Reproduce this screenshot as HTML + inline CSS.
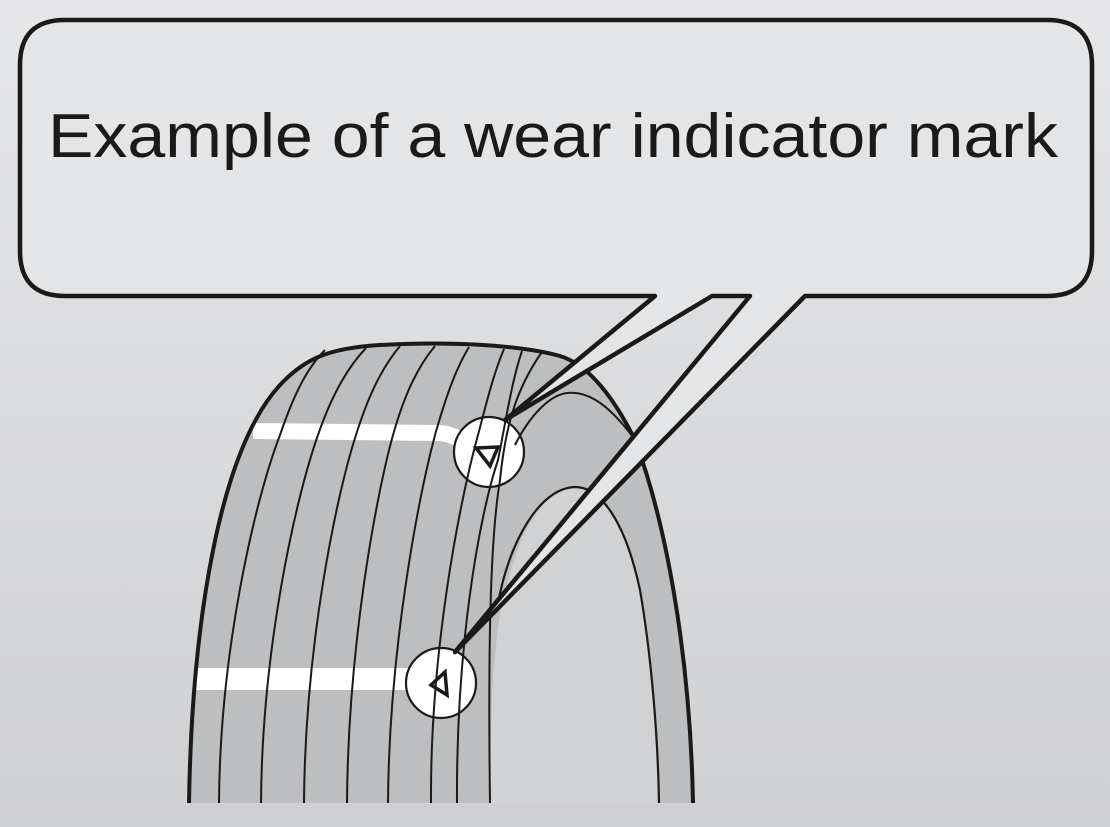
<!DOCTYPE html>
<html><head><meta charset="utf-8"><style>
html,body{margin:0;padding:0;width:1110px;height:827px;overflow:hidden}
svg{display:block}
</style></head><body>
<svg width="1110" height="827" viewBox="0 0 1110 827" xmlns="http://www.w3.org/2000/svg">
<defs>
<linearGradient id="bg" x1="0" y1="0" x2="0" y2="1">
<stop offset="0" stop-color="#e6e7e9"/><stop offset="1" stop-color="#cfd0d2"/>
</linearGradient>
</defs>
<rect width="1110" height="827" fill="url(#bg)"/>
<!-- tire body fill -->
<path d="M189,803 C192,620 220,450 280,385 C305,358 330,348 380,345 C450,341 520,345 560,356 C590,365 615,400 635,440 C665,520 690,650 693,803 Z" fill="#bdbec0"/>
<!-- inner hole -->
<path d="M490,803 C490,700 495,620 507,585 C520,530 545,488 575,487 C600,487 625,520 640,590 C652,660 658,740 659,803 Z" fill="#d1d2d4"/>
<!-- white bands -->
<path d="M253,431 L440,433 Q460,435 470,450" fill="none" stroke="#fff" stroke-width="16"/>
<path d="M194,679 L420,679" fill="none" stroke="#fff" stroke-width="22"/>
<!-- circles fill -->
<circle cx="489" cy="452" r="35" fill="#fff"/>
<circle cx="441" cy="683" r="35" fill="#fff"/>
<!-- outline strokes (open at bottom) -->
<path d="M189,803 C192,620 220,450 280,385 C305,358 330,348 380,345 C450,341 520,345 560,356 C590,365 615,400 635,440 C665,520 690,650 693,803" fill="none" stroke="#1a1a1a" stroke-width="4"/>
<path d="M498,603 C510,540 540,488 575,487 C600,487 625,520 640,590 C652,660 658,740 659,803" fill="none" stroke="#1a1a1a" stroke-width="2.2"/>
<!-- tread lines -->
<g fill="none" stroke="#1a1a1a" stroke-width="2">
<path d="M219,803 C220,650 255,500 280,435 C292,400 305,370 325,350"/>
<path d="M261,803 C262,650 295,500 318,435 C330,400 345,370 366,348"/>
<path d="M304,803 C305,650 335,500 356,435 C367,400 380,370 400,346"/>
<path d="M347,803 C348,650 375,500 393,435 C403,400 415,370 435,346"/>
<path d="M388,803 C389,650 418,500 435,435 C445,400 455,370 469,347"/>
<path d="M431,803 C430,650 460,500 478,435 C486,405 493,375 504,349"/>
<path d="M457,803 C456,650 478,520 498,460 C506,420 512,380 522,351"/>
<path d="M490,803 C488,650 490,540 500,480 C505,430 515,390 542,352"/>
<path d="M515,445 C530,415 550,395 567,393 C585,391 605,400 633,437"/>
</g>
<!-- circle strokes -->
<circle cx="489" cy="452" r="35" fill="none" stroke="#1a1a1a" stroke-width="2.2"/>
<circle cx="441" cy="683" r="35" fill="none" stroke="#1a1a1a" stroke-width="2.2"/>
<!-- triangles -->
<polygon points="476,448 498,447 490,466" fill="none" stroke="#1a1a1a" stroke-width="3.5"/>
<polygon points="431,685 445,672 447,695" fill="none" stroke="#1a1a1a" stroke-width="3.5"/>
<!-- callout -->
<path d="M655,296 L505,420 L712,296 L750,296 L455,652 L805,296 L1047,296 Q1092,296 1092,251 L1092,65 Q1092,20 1047,20 L65,20 Q20,20 20,65 L20,251 Q20,296 65,296 Z" fill="#e4e5e7" stroke="#1a1a1a" stroke-width="4.5" stroke-linejoin="round"/>
<text x="48" y="157" font-family="'Liberation Sans', sans-serif" font-size="62" fill="#1a1a1a" textLength="1010" lengthAdjust="spacingAndGlyphs">Example of a wear indicator mark</text>
</svg>
</body></html>
